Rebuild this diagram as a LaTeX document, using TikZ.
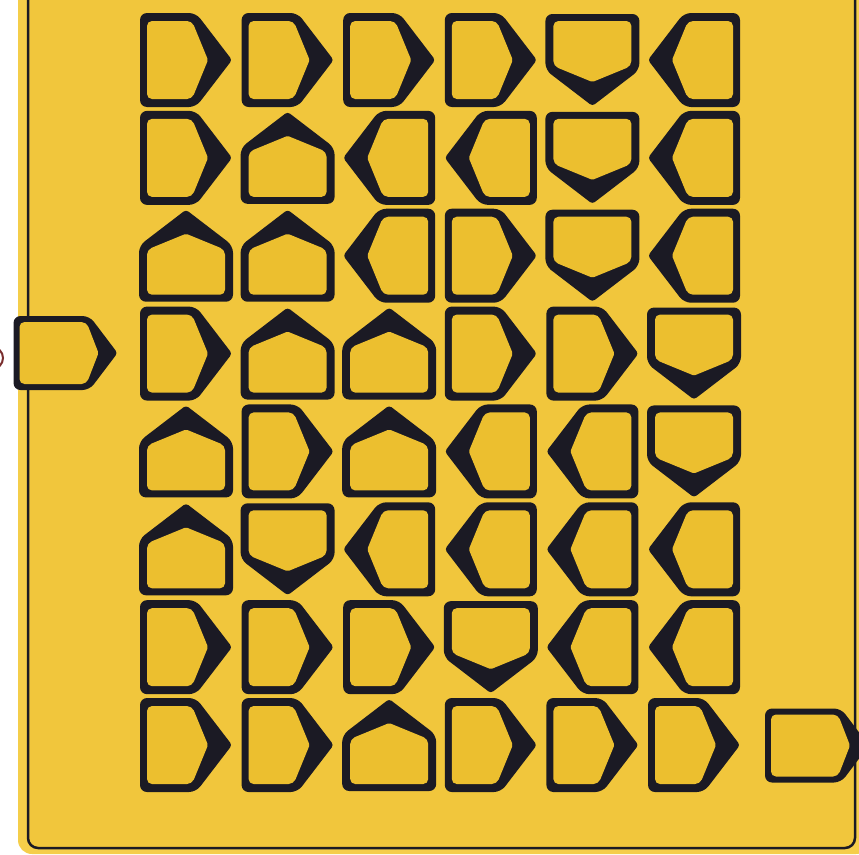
\documentclass[tikz,border=0pt]{standalone}
\definecolor{boardY}{HTML}{F1C63C}
\definecolor{bandY}{HTML}{F5CE4A}
\definecolor{tileY}{HTML}{ECBF2F}
\definecolor{dk}{HTML}{1B1A24}
\definecolor{dred}{HTML}{7A2E2E}
\tikzset{
  x=1pt, y=1pt,
  tile/.pic={
    \fill[dk] [rounded corners=7] (-46,-47) -- (10,-47) [rounded corners=3] -- (46,0) [rounded corners=7] -- (10,47) -- (-46,47) -- cycle;
    \fill[tileY] [rounded corners=5] (-39,-39) -- (6,-39) [rounded corners=1.5] -- (22,0) [rounded corners=5] -- (6,39) -- (-39,39) -- cycle;
  },
  porttile/.pic={
    \fill[dk] [rounded corners=7] (-52,-37) -- (24,-37) [rounded corners=3] -- (52,0) [rounded corners=7] -- (24,37) -- (-52,37) -- cycle;
    \fill[tileY] [rounded corners=5] (-46,-31) -- (21,-31) [rounded corners=1.5] -- (33,0) [rounded corners=5] -- (21,31) -- (-46,31) -- cycle;
  }
}
\begin{document}
\begin{tikzpicture}
\clip (0,0) rectangle (859,-854);
\fill[white] (0,0) rectangle (859,-854);
% board
\fill[bandY, rounded corners=14] (18,30) rectangle (870,-854);
\filldraw[fill=boardY, draw=dk, line width=2.5, rounded corners=10] (28,20) rectangle (855,-848);
% sliver at left edge
\draw[dred, line width=2] (-8,-358) circle (11);
% entry and exit
\pic (entry) at (65.5,-353) {porttile};
\pic (exit) at (817,-745.5) {porttile};
% grid of tiles
\foreach \r/\dirs in {
  1/{0,0,0,0,270,180},
  2/{0,90,180,180,270,180},
  3/{90,90,180,0,270,180},
  4/{0,90,90,0,0,270},
  5/{90,0,90,180,180,270},
  6/{90,270,180,180,180,180},
  7/{0,0,0,270,180,180},
  8/{0,0,90,0,0,0}} {
  \foreach \a [count=\c] in \dirs {
    \pic[rotate=\a] (t\r-\c) at ({186+(\c-1)*101.6},{-60-(\r-1)*97.86}) {tile};
  }
}
\end{tikzpicture}
\end{document}
